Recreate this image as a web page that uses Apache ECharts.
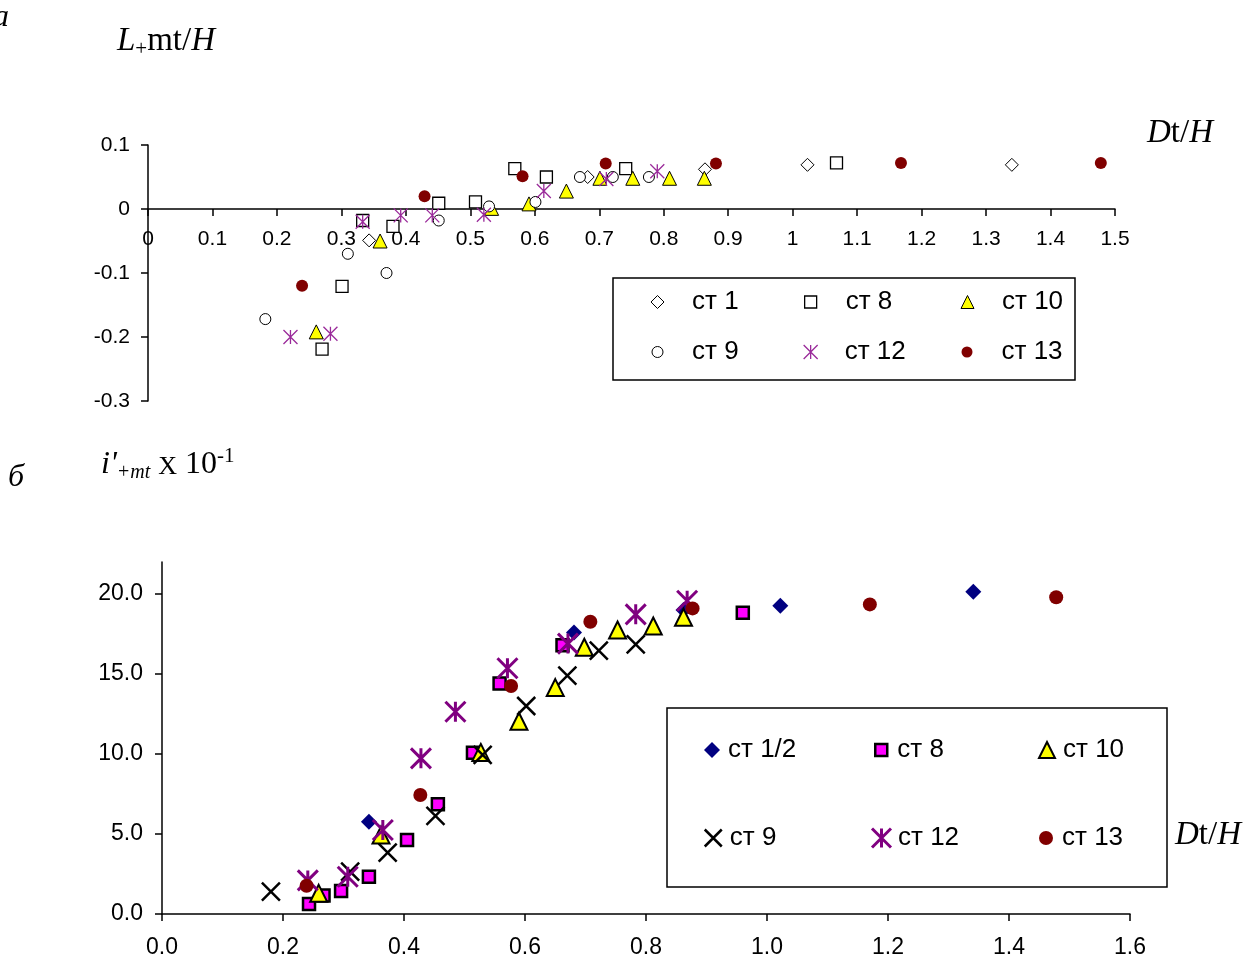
<!DOCTYPE html>
<html>
<head>
<meta charset="utf-8">
<script src="https://cdn.jsdelivr.net/npm/echarts@6/dist/echarts.min.js"></script>
<style>
  html, body { margin: 0; padding: 0; background: #ffffff; }
  #chart { width: 1255px; height: 965px; }
</style>
</head>
<body>
<div id="chart"></div>
<script>
// ---- Panel а : L+mt/H vs Dt/H ----
const topSt1  = [[0.343,-0.049],[0.682,0.050],[0.864,0.062],[1.023,0.069],[1.340,0.069]];
const topSt8  = [[0.270,-0.219],[0.301,-0.121],[0.333,-0.018],[0.380,-0.027],[0.451,0.009],[0.508,0.011],[0.569,0.063],[0.618,0.050],[0.741,0.063],[1.068,0.072]];
const topSt10 = [[0.261,-0.192],[0.360,-0.050],[0.533,0.001],[0.591,0.008],[0.649,0.028],[0.701,0.048],[0.752,0.048],[0.809,0.048],[0.863,0.048]];
const topSt9  = [[0.182,-0.172],[0.310,-0.070],[0.370,-0.100],[0.451,-0.018],[0.529,0.004],[0.601,0.011],[0.670,0.050],[0.721,0.050],[0.777,0.050]];
const topSt12 = [[0.221,-0.200],[0.283,-0.195],[0.333,-0.020],[0.392,-0.010],[0.441,-0.010],[0.521,-0.009],[0.614,0.028],[0.711,0.047],[0.790,0.059]];
const topSt13 = [[0.239,-0.120],[0.429,0.020],[0.581,0.051],[0.710,0.071],[0.881,0.071],[1.168,0.072],[1.478,0.072]];

// ---- Panel б : i'+mt x 10^-1 vs Dt/H ----
const botSt12half = [[0.342,5.77],[0.681,17.6],[0.862,19.0],[1.022,19.27],[1.341,20.14]];
const botSt8  = [[0.243,0.62],[0.267,1.15],[0.296,1.44],[0.342,2.33],[0.405,4.63],[0.456,6.86],[0.514,10.08],[0.558,14.4],[0.662,16.8],[0.960,18.83]];
const botSt10 = [[0.259,1.29],[0.362,4.94],[0.527,10.1],[0.590,12.05],[0.650,14.15],[0.698,16.67],[0.753,17.75],[0.812,18.0],[0.862,18.54]];
const botSt9  = [[0.180,1.40],[0.311,2.65],[0.373,3.83],[0.452,6.13],[0.530,9.94],[0.602,13.0],[0.670,14.9],[0.722,16.46],[0.783,16.85]];
const botSt12 = [[0.241,2.10],[0.307,2.33],[0.365,5.25],[0.428,9.73],[0.485,12.64],[0.571,15.36],[0.671,16.9],[0.783,18.73],[0.868,19.58]];
const botSt13 = [[0.239,1.77],[0.427,7.44],[0.577,14.25],[0.708,18.27],[0.877,19.1],[1.170,19.35],[1.478,19.8]];

const topYTicks = [-0.3, -0.2, -0.1, 0, 0.1];
const botYTicks = [0, 5, 10, 15, 20];

const ASTERISK = 'path://M10,0 L10,20 M0,0 L20,20 M0,20 L20,0';
const CROSS = 'path://M0,0 L20,20 M0,20 L20,0';

const SANS = 'Liberation Sans, Arial, sans-serif';
const SERIF = 'Liberation Serif, Times New Roman, serif';

// marker styles for each station
const sty = {
  a1:  { symbol: 'diamond',  size: 13, item: { color: '#ffffff', borderColor: '#000000', borderWidth: 1, opacity: 1 } },
  a8:  { symbol: 'rect',     size: 12, item: { color: '#ffffff', borderColor: '#000000', borderWidth: 1.3, opacity: 1 } },
  a10: { symbol: 'triangle', size: 14, item: { color: '#ffff00', borderColor: '#000000', borderWidth: 1, opacity: 1 } },
  a9:  { symbol: 'circle',   size: 11, item: { color: '#ffffff', borderColor: '#000000', borderWidth: 1, opacity: 1 } },
  a12: { symbol: ASTERISK,   size: 14, item: { color: '#9a2a9a', borderColor: '#9a2a9a', borderWidth: 1.3, opacity: 1 } },
  a13: { symbol: 'circle',   size: 12, item: { color: '#800000', borderColor: '#800000', borderWidth: 0, opacity: 1 } },
  b1:  { symbol: 'diamond',  size: 16, item: { color: '#000080', borderColor: '#000080', borderWidth: 0, opacity: 1 } },
  b8:  { symbol: 'rect',     size: 12, item: { color: '#ff00ff', borderColor: '#000000', borderWidth: 2.5, opacity: 1 } },
  b10: { symbol: 'triangle', size: 17, item: { color: '#ffff00', borderColor: '#000000', borderWidth: 2, opacity: 1 } },
  b9:  { symbol: CROSS,      size: 18, item: { color: '#000000', borderColor: '#000000', borderWidth: 2.5, opacity: 1 } },
  b12: { symbol: ASTERISK,   size: 20, item: { color: '#800080', borderColor: '#800080', borderWidth: 3, opacity: 1 } },
  b13: { symbol: 'circle',   size: 14, item: { color: '#800000', borderColor: '#800000', borderWidth: 0, opacity: 1 } }
};

function scatter(name, key, data, idx) {
  const s = sty[key];
  return {
    type: 'scatter', name: name, xAxisIndex: idx, yAxisIndex: idx,
    data: data, symbol: s.symbol, symbolSize: s.size,
    itemStyle: s.item, emphasis: { disabled: true }
  };
}

function legendItem(name, key, cx, cy, size, gap) {
  const s = sty[key];
  return {
    show: true, selectedMode: false, padding: 0, itemGap: 0,
    left: cx - size / 2, top: cy - 15,
    itemWidth: size, itemHeight: size,
    data: [{ name: name, icon: s.symbol, itemStyle: s.item }],
    formatter: function (n) { return n.split(': ')[1]; },
    textStyle: { fontFamily: SANS, fontSize: 26, color: '#000000', lineHeight: 30, padding: [0, 0, 0, gap] }
  };
}

const axisLineStyle = { color: '#000000', width: 1.5 };

const option = {
  animation: false,
  backgroundColor: '#ffffff',
  grid: [
    { left: 148, top: 145, width: 967, height: 256, containLabel: false, outerBoundsMode: 'none' },
    { left: 162, top: 562, width: 968, height: 352, containLabel: false, outerBoundsMode: 'none' }
  ],
  xAxis: [
    {
      // Dt/H axis of panel а, drawn along the zero line of the y axis
      type: 'value', gridIndex: 0, min: 0, max: 1.5, interval: 0.1,
      position: 'bottom', offset: -192,
      axisLine: { show: true, onZero: false, lineStyle: axisLineStyle },
      axisTick: { show: true, length: 7, lineStyle: axisLineStyle },
      axisLabel: { fontFamily: SANS, fontSize: 21, color: '#000000', margin: 20 },
      splitLine: { show: false }
    },
    {
      type: 'value', gridIndex: 1, min: 0, max: 1.6, interval: 0.2,
      axisLine: { show: true, onZero: false, lineStyle: axisLineStyle },
      axisTick: { show: true, length: 7, lineStyle: axisLineStyle },
      axisLabel: { fontFamily: SANS, fontSize: 23, color: '#000000', margin: 22,
                   formatter: function (v) { return v.toFixed(1); } },
      splitLine: { show: false }
    }
  ],
  yAxis: [
    {
      type: 'value', gridIndex: 0, min: -0.3, max: 0.1, interval: 0.1,
      axisLine: { show: true, onZero: false, lineStyle: axisLineStyle },
      axisTick: { show: true, length: 7, lineStyle: axisLineStyle },
      axisLabel: { fontFamily: SANS, fontSize: 21, color: '#000000', margin: 18,
                   customValues: topYTicks },
      splitLine: { show: false }
    },
    {
      type: 'value', gridIndex: 1, min: 0, max: 22,
      axisLine: { show: true, onZero: false, lineStyle: axisLineStyle },
      axisTick: { show: true, length: 7, lineStyle: axisLineStyle, customValues: botYTicks },
      axisLabel: { fontFamily: SANS, fontSize: 23, color: '#000000', margin: 19,
                   customValues: botYTicks,
                   formatter: function (v) { return v.toFixed(1); } },
      splitLine: { show: false }
    }
  ],
  legend: [
    legendItem('а: ст 1',  'a1',  657, 302, 13, 23),
    legendItem('а: ст 8',  'a8',  810, 302, 12, 24),
    legendItem('а: ст 10', 'a10', 967, 302, 13, 23),
    legendItem('а: ст 9',  'a9',  657, 352, 11, 24),
    legendItem('а: ст 12', 'a12', 810, 352, 14, 22),
    legendItem('а: ст 13', 'a13', 967, 352, 11, 24),
    legendItem('б: ст 1/2', 'b1',  712, 750, 16, 3),
    legendItem('б: ст 8',   'b8',  880, 750, 12, 5),
    legendItem('б: ст 10',  'b10', 1046, 750, 16, 3),
    legendItem('б: ст 9',   'b9',  712, 838, 17, 3),
    legendItem('б: ст 12',  'b12', 880, 838, 19, 2),
    legendItem('б: ст 13',  'b13', 1046, 838, 14, 4)
  ],
  graphic: [
    // legend frames
    { type: 'rect', z: 0, shape: { x: 613, y: 278, width: 462, height: 102 },
      style: { fill: '#ffffff', stroke: '#000000', lineWidth: 1.5 } },
    { type: 'rect', z: 0, shape: { x: 667, y: 708, width: 500, height: 179 },
      style: { fill: '#ffffff', stroke: '#000000', lineWidth: 1.5 } },
    // panel letters
    { type: 'text', left: -7, top: 2,
      style: { text: 'а', font: 'italic 32px ' + SERIF, fill: '#000000' } },
    { type: 'text', left: 8, top: 462,
      style: { text: 'б', font: 'italic 32px ' + SERIF, fill: '#000000' } },
    // axis titles, panel а
    { type: 'text', left: 117, top: 25,
      style: {
        text: '{it|L}{sub|+}{rm|mt/}{it|H}',
        rich: {
          it: { fontFamily: SERIF, fontStyle: 'italic', fontSize: 33, fill: '#000000' },
          rm: { fontFamily: SERIF, fontSize: 33, fill: '#000000' },
          sub: { fontFamily: SERIF, fontSize: 21, fill: '#000000', padding: [16, 0, 0, 0] }
        }
      } },
    { type: 'text', left: 1147, top: 117,
      style: {
        text: '{it|D}{rm|t/}{it|H}',
        rich: {
          it: { fontFamily: SERIF, fontStyle: 'italic', fontSize: 33, fill: '#000000' },
          rm: { fontFamily: SERIF, fontSize: 33, fill: '#000000' }
        }
      } },
    // axis titles, panel б
    { type: 'text', left: 101, top: 446,
      style: {
        text: "{it|i'}{sub|+mt}{rm| }{x|X}{rm| 10}{sup|-1}",
        rich: {
          it: { fontFamily: SERIF, fontStyle: 'italic', fontSize: 32, fill: '#000000' },
          rm: { fontFamily: SERIF, fontSize: 32, fill: '#000000' },
          x: { fontFamily: SERIF, fontSize: 26, fill: '#000000', padding: [6, 0, 0, 0] },
          sub: { fontFamily: SERIF, fontStyle: 'italic', fontSize: 20, fill: '#000000', padding: [16, 0, 0, 0] },
          sup: { fontFamily: SERIF, fontSize: 21, fill: '#000000', padding: [0, 0, 16, 0] }
        }
      } },
    { type: 'text', left: 1175, top: 819,
      style: {
        text: '{it|D}{rm|t/}{it|H}',
        rich: {
          it: { fontFamily: SERIF, fontStyle: 'italic', fontSize: 33, fill: '#000000' },
          rm: { fontFamily: SERIF, fontSize: 33, fill: '#000000' }
        }
      } }
  ],
  series: [
    scatter('а: ст 1',  'a1',  topSt1,  0),
    scatter('а: ст 8',  'a8',  topSt8,  0),
    scatter('а: ст 10', 'a10', topSt10, 0),
    scatter('а: ст 9',  'a9',  topSt9,  0),
    scatter('а: ст 12', 'a12', topSt12, 0),
    scatter('а: ст 13', 'a13', topSt13, 0),
    scatter('б: ст 1/2', 'b1',  botSt12half, 1),
    scatter('б: ст 8',   'b8',  botSt8,  1),
    scatter('б: ст 10',  'b10', botSt10, 1),
    scatter('б: ст 9',   'b9',  botSt9,  1),
    scatter('б: ст 12',  'b12', botSt12, 1),
    scatter('б: ст 13',  'b13', botSt13, 1)
  ]
};

const chart = echarts.init(document.getElementById('chart'), null, { renderer: 'canvas' });
chart.setOption(option);
</script>
</body>
</html>
